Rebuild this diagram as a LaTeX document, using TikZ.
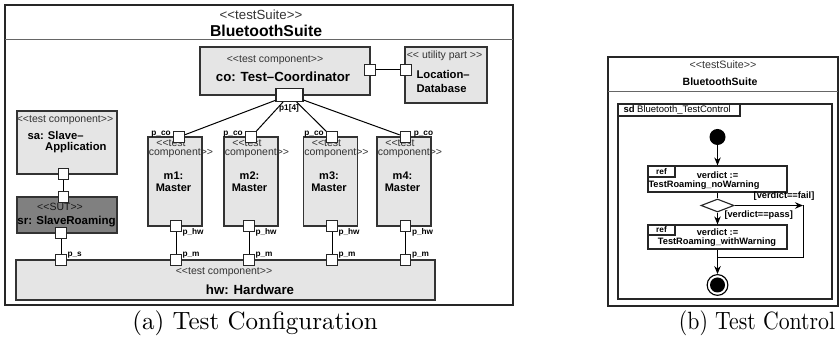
\documentclass[tikz,border=0pt]{standalone}
\usepackage{fontspec}
\newfontfamily\umlfont{Liberation Sans}
\usetikzlibrary{fit,shapes.geometric,arrows.meta}
\newcommand\sopen{<\kern0pt<}
\newcommand\sclose{>\kern0pt>}

\begin{document}
\begin{tikzpicture}[x=0.4pt,y=-0.4pt,>={Stealth[length=3.2pt,width=2.6pt]},line width=0.4pt,
		frame/.style={draw=black!85,line width=0.6pt},
		part node/.style={draw=black!80,fill=black!10,line width=0.5pt,inner sep=0pt},
		sut node/.style={part node,fill=black!50},
		port node/.style={draw=black!85,fill=white,line width=0.45pt,inner sep=0pt,minimum size=4.2pt},
		ref box/.style={draw=black!85,line width=0.45pt,inner sep=0pt},
		ster text/.style={font=\umlfont\fontsize{4.2}{5}\selectfont,text=black!80,inner sep=0pt},
		name text/.style={font=\umlfont\bfseries\fontsize{4.5}{5.6}\selectfont,inner sep=0pt,align=center},
		big text/.style={font=\umlfont\bfseries\fontsize{5.3}{6.3}\selectfont,inner sep=0pt},
		port text/.style={font=\umlfont\bfseries\fontsize{3.3}{4}\selectfont,inner sep=0pt},
		act text/.style={font=\umlfont\bfseries\fontsize{3.7}{4.5}\selectfont,inner sep=0pt}]
		\useasboundingbox (0,0) rectangle (839,344);
		% (a) test configuration
		\draw[frame] (5,5) rectangle (513,305);
		\draw[black!60] (5,40) -- (513,40);
		\node[ster text,font=\umlfont\fontsize{5.3}{6}\selectfont] (tsa) at (261,15) {\sopen testSuite\sclose};
		\node[big text,font=\umlfont\bfseries\fontsize{6.3}{7}\selectfont] (bsa) at (266,31) {BluetoothSuite};
		\node[part node,fit={(200,47) (370,95)}] (co) {};
		\node[ster text] (co st) at (275,60) {\sopen test component\sclose};
		\node[big text] (co nm) at (283,77) {co: Test–Coordinator};
		\node[part node,fit={(405,47) (487,103)}] (loc) {};
		\node[ster text] (loc st) at (444.5,56) {\sopen\ utility part \sclose};
		\node[name text,align=left,anchor=west] (loc nm) at (416,81) {Location–\\Database};
		\node[port node] (co r) at (370,70) {};
		\node[port node] (loc l) at (406,70) {};
		\draw (co r) -- (loc l);
		\node[port node,minimum width=10.8pt,minimum height=5.2pt] (p1) at (289.5,95) {};
		\node[port text] (p1 lb) at (289,108) {p1[4]};
		\node[part node,fit={(16,260) (435,300)}] (hw) {};
		\node[ster text] (hw st) at (224,272) {\sopen test component\sclose};
		\node[big text] (hw nm) at (250,290) {hw: Hardware};
		% masters
		\foreach \i/\x/\t/\b in {1/175/179/176,2/251/251/249,3/330.5/332/332,4/404/405.5/405.5}{
			\node[part node,fit={(\x-27,137) (\x+27,226)}] (m\i) {};
			\node[ster text] (m\i st1) at (\x-4,143) {\sopen test};
			\node[ster text] (m\i st2) at (\x+6,153) {component\sclose};
			\node[name text,font=\umlfont\bfseries\fontsize{4.4}{4.8}\selectfont] (m\i nm) at (\x-1.5,182) {m\i:\\Master};
			\node[port node] (pco\i) at (\t,137) {};
			\node[port node] (phw\i) at (\b,226) {};
			\node[port node] (pm\i) at (\b,260) {};
			\draw (p1) -- (pco\i);
			\draw (phw\i) -- (pm\i);
			\node[port text,anchor=west] (lhw\i) at (\b+6,232) {p\_hw};
			\node[port text,anchor=west] (lm\i) at (\b+6,255) {p\_m};
		}
		\foreach \i in {1,2,3}
			\node[port text,anchor=east] (lco\i) at ([xshift=-0.8pt,yshift=1.2pt]pco\i.west) {p\_co};
		\node[port text,anchor=west] (lco4) at ([xshift=0.8pt,yshift=1.2pt]pco4.east) {p\_co};
		\node[part node,fit={(17,111) (117,174)}] (sa) {};
		\node[ster text] (sa st) at (65,120) {\sopen test component\sclose};
		\node[name text,anchor=west] (sa nm1) at (27,135) {sa: Slave–};
		\node[name text,anchor=east] (sa nm2) at (107,148) {Application};
		\node[sut node,fit={(17,197) (117,233)}] (sr) {};
		\node[ster text,text=black!90] (sr st) at (60,207) {\sopen SUT\sclose};
		\node[name text,font=\umlfont\bfseries\fontsize{4.6}{5.6}\selectfont] (sr nm) at (66.5,222) {sr: SlaveRoaming};
		\node[port node] (sa p) at (63.5,174) {};
		\node[port node] (sr t) at (63.5,197) {};
		\node[port node] (sr b) at (61,233) {};
		\node[port node] (ps) at (61,260) {};
		\draw (sa p) -- (sr t);
		\draw (sr b) -- (ps);
		\node[port text,anchor=west] (ls) at (67,255) {p\_s};
		\node (cap a) at (255,323) {(a) Test Configuration};
		% (b) test control
		\draw[frame] (608,57) rectangle (838,306);
		\draw[black!60] (608,92) -- (838,92);
		\node[ster text,font=\umlfont\fontsize{4.3}{5}\selectfont] (tsb) at (723,65) {\sopen testSuite\sclose};
		\node[big text,font=\umlfont\bfseries\fontsize{4.2}{5}\selectfont] (bsb) at (720,82) {BluetoothSuite};
		\node[ref box,line width=0.5pt,fit={(618,104) (832,299)}] (sd) {};
		\node[ref box,fit={(618,104) (740,116)}] (sd tab) {};
		\node[anchor=west,font=\umlfont\fontsize{3.8}{4.5}\selectfont,inner sep=0pt] (sd lb) at (623,110) {\textbf{sd} Bluetooth\_TestControl};
		\node[circle,fill=black,minimum size=6.4pt,inner sep=0pt] (init) at (717.5,137) {};
		\node[ref box,fit={(648,166) (787,192)}] (ref1) {};
		\node[ref box,fit={(648,166) (675,177)}] (ref1 tab) {};
		\node[port text] (ref1 kw) at (661.5,171.5) {ref};
		\node[act text] (ref1 a) at (717.5,175) {verdict :=};
		\node[act text,anchor=west] (ref1 b) at (648,185) {TestRoaming\_noWarning};
		\node[diamond,draw=black!85,line width=0.45pt,fill=white,minimum width=13.2pt,minimum height=5.2pt,inner sep=0pt] (dec) at (717.5,205.5) {};
		\node[ref box,fit={(648,225) (787,249)}] (ref2) {};
		\node[ref box,fit={(648,225) (675,235)}] (ref2 tab) {};
		\node[port text] (ref2 kw) at (661.5,230) {ref};
		\node[act text] (ref2 a) at (717.5,232) {verdict :=};
		\node[act text] (ref2 b) at (717,242) {TestRoaming\_withWarning};
		\node[circle,draw,line width=0.45pt,minimum size=8.3pt,inner sep=0pt] (fin) at (717.5,285) {};
		\node[circle,fill=black,minimum size=6pt,inner sep=0pt] (fin dot) at (fin) {};
		\coordinate (fj) at (803,205.5);
		\coordinate (mj) at (717.5,258);
		\draw[->] (init) -- (ref1);
		\draw (ref1) -- (dec);
		\draw[->] (dec) -- (ref2);
		\node[act text,anchor=west] (pass) at (724,215) {[verdict==pass]};
		\draw[->] (dec) -- (fj);
		\node[act text] (fail) at (784,196) {[verdict==fail]};
		\draw (fj) -- (fj |- mj) -- (mj);
		\draw[->] (ref2) -- (fin);
		\node[inner sep=0pt] (cap b) at (757,323) {\scalebox{0.87}[1]{(b) Test Control}};
		\end{tikzpicture}
\end{document}
